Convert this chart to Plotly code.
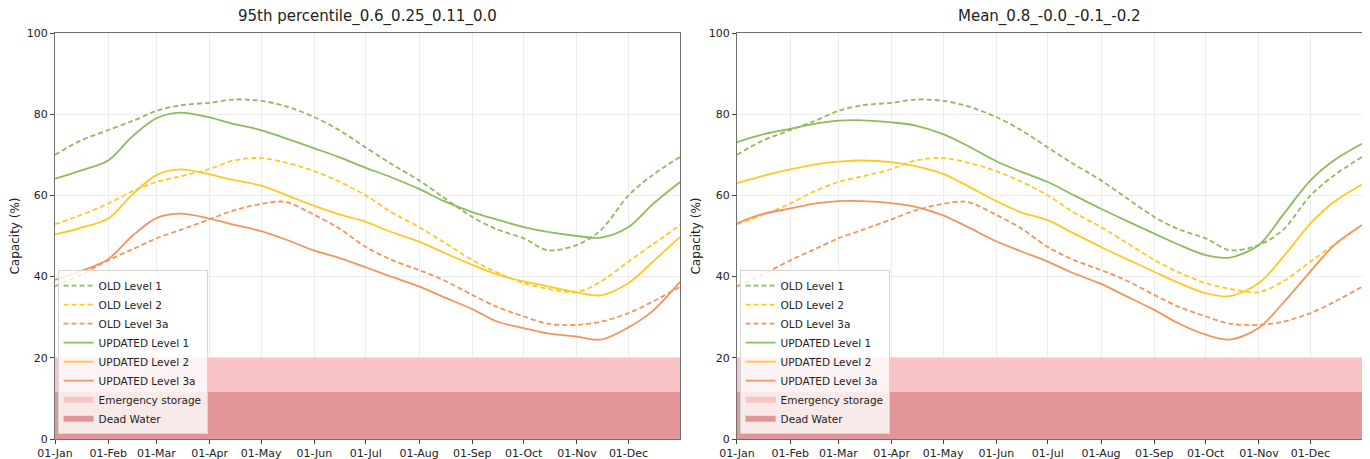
import plotly.graph_objects as go
from plotly.subplots import make_subplots

# ---------------- data ----------------
dates = ["2021-01-01", "2021-01-15", "2021-02-01", "2021-02-15", "2021-03-01",
         "2021-03-15", "2021-04-01", "2021-04-15", "2021-05-01", "2021-05-15",
         "2021-06-01", "2021-06-15", "2021-07-01", "2021-07-15", "2021-08-01",
         "2021-08-15", "2021-09-01", "2021-09-15", "2021-10-01", "2021-10-15",
         "2021-11-01", "2021-11-15", "2021-12-01", "2021-12-15", "2021-12-31"]

old_level1 = [70.0, 73.3, 76.1, 78.3, 80.8, 82.2, 82.8, 83.6, 83.3, 82.0, 79.3, 76.2,
              71.8, 68.0, 63.7, 59.6, 54.7, 51.7, 49.4, 46.5, 47.8, 51.5, 60.0, 65.0, 69.5]
old_level2 = [52.9, 55.0, 58.0, 61.0, 63.3, 64.7, 66.5, 68.6, 69.2, 68.1, 66.0, 63.5,
              60.0, 56.1, 52.2, 48.6, 44.1, 41.1, 38.4, 37.0, 36.2, 38.8, 43.7, 47.9, 52.7]
old_level3a = [37.6, 40.3, 44.0, 46.7, 49.4, 51.5, 54.1, 56.3, 57.9, 58.4, 55.2, 52.0,
               47.3, 44.3, 41.6, 39.2, 35.5, 32.6, 30.2, 28.4, 28.1, 28.9, 31.0, 33.8, 37.5]

p95_level1 = [64.1, 66.0, 68.6, 74.5, 79.0, 80.4, 79.2, 77.6, 76.1, 74.1, 71.6, 69.5,
              66.8, 64.6, 61.6, 58.7, 55.9, 54.1, 52.2, 51.0, 50.0, 49.6, 52.2, 57.8, 63.3]
p95_level2 = [50.4, 51.9, 54.3, 60.2, 65.0, 66.4, 65.2, 63.8, 62.4, 60.2, 57.4, 55.4,
              53.5, 51.1, 48.6, 46.0, 42.9, 40.6, 38.8, 37.6, 36.1, 35.4, 38.4, 43.6, 49.8]
p95_level3a = [39.2, 41.2, 44.3, 50.0, 54.4, 55.5, 54.3, 52.8, 51.2, 49.2, 46.4, 44.7,
               42.3, 40.1, 37.6, 35.0, 32.0, 29.0, 27.3, 26.0, 25.2, 24.5, 27.5, 31.5, 38.7]

mean_level1 = [73.1, 74.9, 76.4, 77.6, 78.4, 78.5, 78.0, 77.2, 75.1, 72.3, 68.4, 65.9,
               63.3, 60.3, 56.7, 53.9, 50.6, 47.9, 45.3, 44.7, 47.8, 55.2, 63.7, 68.7, 72.7]
mean_level2 = [63.0, 64.7, 66.4, 67.6, 68.3, 68.6, 68.2, 67.2, 65.3, 62.4, 58.6, 55.9,
               53.9, 50.9, 47.3, 44.5, 41.2, 38.5, 35.9, 35.2, 38.4, 44.8, 53.1, 58.5, 62.7]
mean_level3a = [53.1, 55.3, 56.8, 58.0, 58.6, 58.6, 58.1, 57.2, 55.1, 52.3, 48.7, 46.3,
                43.7, 41.0, 38.2, 35.3, 31.8, 28.5, 25.7, 24.5, 27.4, 33.5, 41.3, 47.8, 52.7]

band_x = ["2021-01-01", "2021-12-31"]
emergency_level = 20.0
dead_level = 11.6

month_ticks = ["2021-01-01", "2021-02-01", "2021-03-01", "2021-04-01", "2021-05-01",
               "2021-06-01", "2021-07-01", "2021-08-01", "2021-09-01", "2021-10-01",
               "2021-11-01", "2021-12-01"]
month_labels = ["01-Jan", "01-Feb", "01-Mar", "01-Apr", "01-May", "01-Jun",
                "01-Jul", "01-Aug", "01-Sep", "01-Oct", "01-Nov", "01-Dec"]
y_ticks = [0, 20, 40, 60, 80, 100]

titles = ["95th percentile_0.6_0.25_0.11_0.0", "Mean_0.8_-0.0_-0.1_-0.2"]

# ---------------- styles ----------------
GREEN = "#8cbc5c"
YELLOW = "#ffc824"
ORANGE = "#f4945c"
EMERG = "#f9c4c5"
DEAD = "#e29697"
FONT = "DejaVu Sans"
DASH = "5px,3px"

fig = make_subplots(rows=1, cols=2, horizontal_spacing=0.0436)

panels = [
    (p95_level1, p95_level2, p95_level3a, "legend"),
    (mean_level1, mean_level2, mean_level3a, "legend2"),
]

for i, (l1, l2, l3, leg) in enumerate(panels):
    col = i + 1
    fig.add_trace(go.Scatter(x=band_x, y=[emergency_level] * 2, fill="tozeroy",
                             mode="none", fillcolor=EMERG, name="Emergency storage",
                             legend=leg, legendrank=7, hoverinfo="skip"), row=1, col=col)
    fig.add_trace(go.Scatter(x=band_x, y=[dead_level] * 2, fill="tozeroy",
                             mode="none", fillcolor=DEAD, name="Dead Water",
                             legend=leg, legendrank=8, hoverinfo="skip"), row=1, col=col)
    series = [
        (old_level1, GREEN, DASH, "OLD Level 1", 1),
        (old_level2, YELLOW, DASH, "OLD Level 2", 2),
        (old_level3a, ORANGE, DASH, "OLD Level 3a", 3),
        (l1, GREEN, "solid", "UPDATED Level 1", 4),
        (l2, YELLOW, "solid", "UPDATED Level 2", 5),
        (l3, ORANGE, "solid", "UPDATED Level 3a", 6),
    ]
    for vals, color, dash, name, rank in series:
        fig.add_trace(go.Scatter(x=dates, y=vals, mode="lines", name=name,
                                 line=dict(color=color, width=1.8, dash=dash,
                                           shape="spline", smoothing=0.9),
                                 legend=leg, legendrank=rank), row=1, col=col)

axis_common = dict(showline=True, mirror=True, linecolor="#6f6f6f", linewidth=1,
                   ticks="outside", ticklen=4, tickcolor="#444", showgrid=True,
                   gridcolor="#ececec", gridwidth=1, zeroline=False, automargin=False,
                   tickfont=dict(family=FONT, size=11, color="#222"))

for col in (1, 2):
    fig.update_xaxes(type="date", range=["2021-01-01", "2021-12-31"],
                     tickmode="array", tickvals=month_ticks, ticktext=month_labels,
                     row=1, col=col, **axis_common)
    fig.update_yaxes(range=[0, 100], tickmode="array", tickvals=y_ticks,
                     title=dict(text="Capacity (%)", font=dict(family=FONT, size=12, color="#222"),
                                standoff=5),
                     row=1, col=col, **axis_common)

legend_common = dict(bgcolor="rgba(255,255,255,0.8)", bordercolor="#d6d6d6", borderwidth=1,
                     font=dict(family=FONT, size=10.5, color="#222"), xanchor="left",
                     yanchor="bottom", y=0.012, tracegroupgap=0, itemwidth=30)

dom1 = fig.layout.xaxis.domain
dom2 = fig.layout.xaxis2.domain

# the page places the figure 8px in from the top-left corner; margins compensate
fig.update_layout(
    width=1370, height=459,
    margin=dict(l=47, r=16, t=25, b=28, autoexpand=False),
    plot_bgcolor="white", paper_bgcolor="white",
    font=dict(family=FONT, color="#222"),
    legend=dict(x=dom1[0] + 0.002, **legend_common),
    legend2=dict(x=dom2[0] + 0.002, **legend_common),
    annotations=[
        dict(text=titles[0], x=(dom1[0] + dom1[1]) / 2, y=1, xref="paper", yref="paper",
             xanchor="center", yanchor="bottom", yshift=5, showarrow=False,
             font=dict(family=FONT, size=15, color="#222")),
        dict(text=titles[1], x=(dom2[0] + dom2[1]) / 2, y=1, xref="paper", yref="paper",
             xanchor="center", yanchor="bottom", yshift=5, showarrow=False,
             font=dict(family=FONT, size=15, color="#222")),
    ],
)

fig.write_html("out.html")
